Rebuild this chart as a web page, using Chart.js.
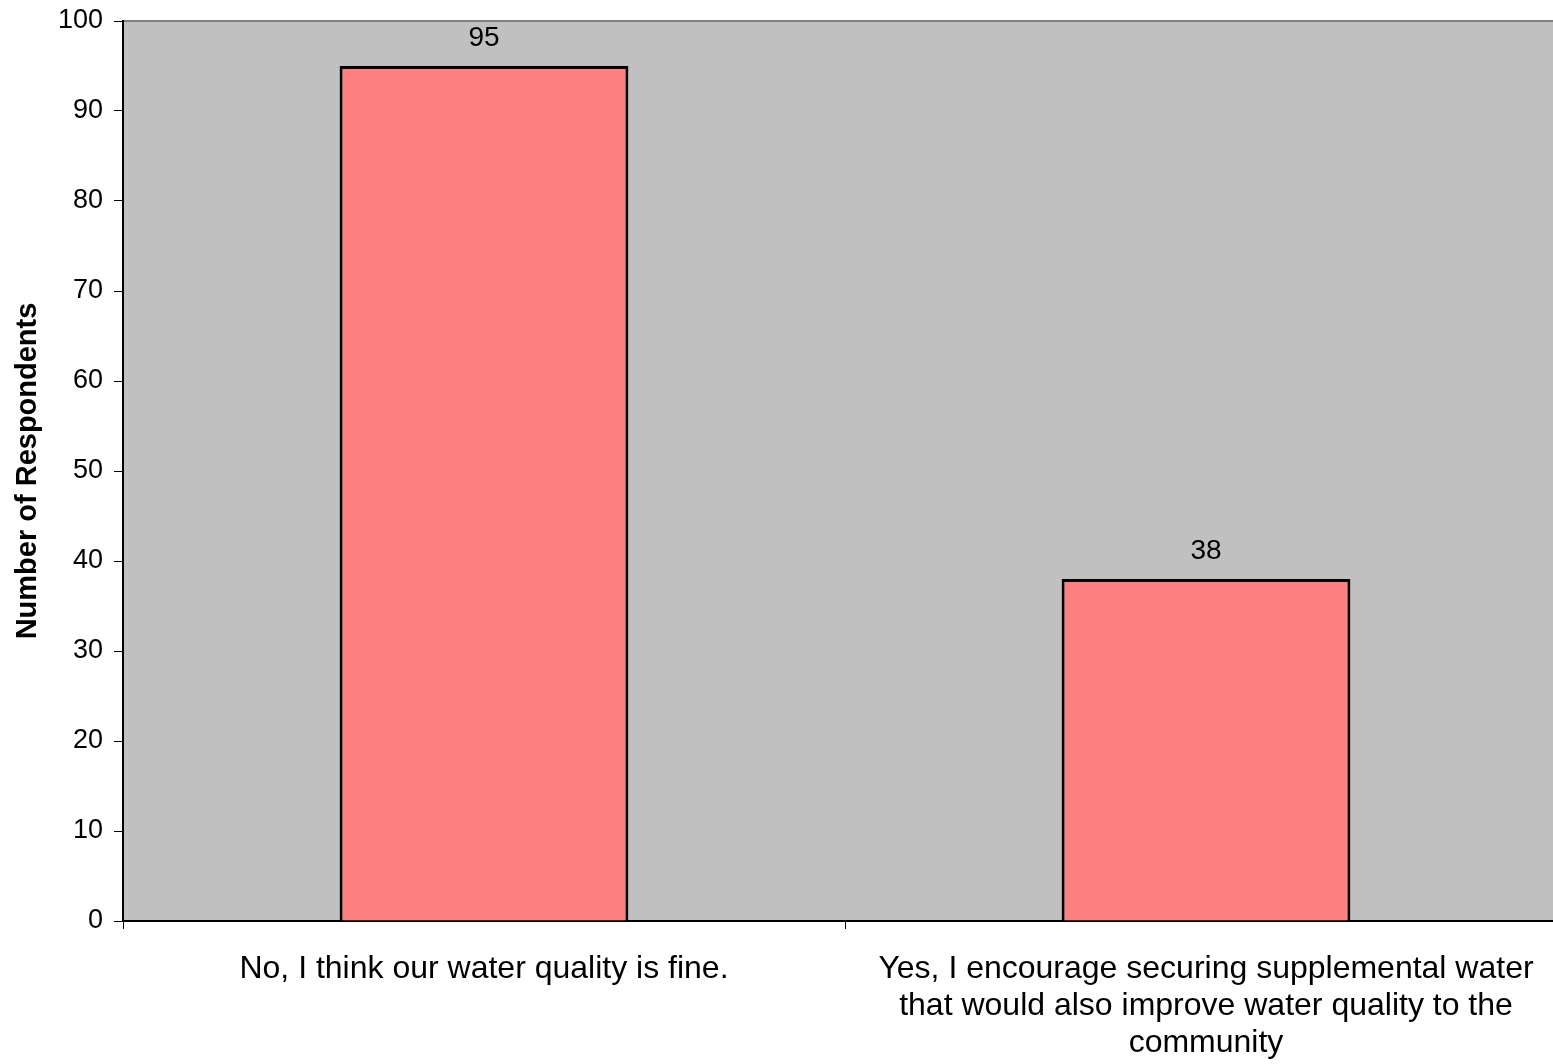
<!DOCTYPE html>
<html>
<head>
<meta charset="utf-8">
<script src="https://cdn.jsdelivr.net/npm/chart.js@4/dist/chart.umd.min.js"></script>
<style>
    html, body { margin: 0; padding: 0; background: #fff; overflow: hidden; }
    #wrap { position: absolute; left: 0; top: 0; width: 1567px; height: 1064px; }
</style>
</head>
<body>
<div id="wrap"><canvas id="responseChart" width="1567" height="1064"></canvas></div>
<script>
// Chart data
const categories = [
    ['No, I think our water quality is fine.'],
    ['Yes, I encourage securing supplemental water', 'that would also improve water quality to the', 'community']
];
const respondents = [95, 38];
const yAxisTitle = 'Number of Respondents';
const yMin = 0;
const yMax = 100;
const yStep = 10;

const FONT = '"Liberation Sans", Arial, sans-serif';

/**
 * Paints the grey plot area and the grey top edge before the axes are drawn.
 */
const plotBackground = {
    id: 'plotBackground',
    beforeDraw(chart) {
        const { ctx, chartArea } = chart;
        ctx.save();
        ctx.fillStyle = '#C0C0C0';
        ctx.fillRect(chartArea.left, chartArea.top, chartArea.right - chartArea.left, chartArea.bottom - chartArea.top);
        ctx.strokeStyle = '#808080';
        ctx.lineWidth = 2;
        ctx.beginPath();
        ctx.moveTo(chartArea.left, chartArea.top);
        ctx.lineTo(chartArea.right, chartArea.top);
        ctx.lineTo(chartArea.right, chartArea.bottom);
        ctx.stroke();
        ctx.restore();
    }
};

/**
 * Writes each bar's value above it.
 */
const valueLabels = {
    id: 'valueLabels',
    afterDatasetsDraw(chart) {
        const { ctx } = chart;
        const meta = chart.getDatasetMeta(0);
        ctx.save();
        ctx.font = '28px ' + FONT;
        ctx.fillStyle = '#000';
        ctx.textAlign = 'center';
        ctx.textBaseline = 'middle';
        meta.data.forEach((bar, i) => {
            ctx.fillText(String(respondents[i]), bar.x, bar.y - 28);
        });
        ctx.restore();
    }
};

const ctx = document.getElementById('responseChart').getContext('2d');
new Chart(ctx, {
    type: 'bar',
    data: {
        labels: categories,
        datasets: [{
            data: respondents,
            backgroundColor: '#FF8080',
            borderColor: '#000000',
            borderWidth: 3,
            barPercentage: 0.4,
            categoryPercentage: 1.0
        }]
    },
    options: {
        responsive: false,
        animation: false,
        layout: {
            padding: { top: 21, right: 0, bottom: 0, left: 0 }
        },
        plugins: {
            legend: { display: false },
            tooltip: { enabled: false }
        },
        scales: {
            x: {
                offset: true,
                grid: {
                    offset: true,
                    drawOnChartArea: false,
                    drawTicks: true,
                    tickLength: 8,
                    color: '#000'
                },
                border: { display: true, color: '#000', width: 2 },
                ticks: {
                    color: '#000',
                    padding: 22,
                    maxRotation: 0,
                    autoSkip: false,
                    font: { family: FONT, size: 32, lineHeight: 1.15 }
                },
                afterFit(scale) { scale.height = 143; }
            },
            y: {
                min: yMin,
                max: yMax,
                grid: {
                    drawOnChartArea: false,
                    drawTicks: true,
                    tickLength: 9,
                    color: '#000'
                },
                border: { display: true, color: '#000', width: 2 },
                ticks: {
                    stepSize: yStep,
                    color: '#000',
                    padding: 11,
                    font: { family: FONT, size: 27, lineHeight: 0.5 }
                },
                title: {
                    display: true,
                    text: yAxisTitle,
                    color: '#000',
                    padding: { top: 11, bottom: 0 },
                    font: { family: FONT, size: 29, weight: 'bold', lineHeight: 1.2 }
                },
                afterFit(scale) { scale.width = 123; }
            }
        }
    },
    plugins: [plotBackground, valueLabels]
});
</script>
</body>
</html>
